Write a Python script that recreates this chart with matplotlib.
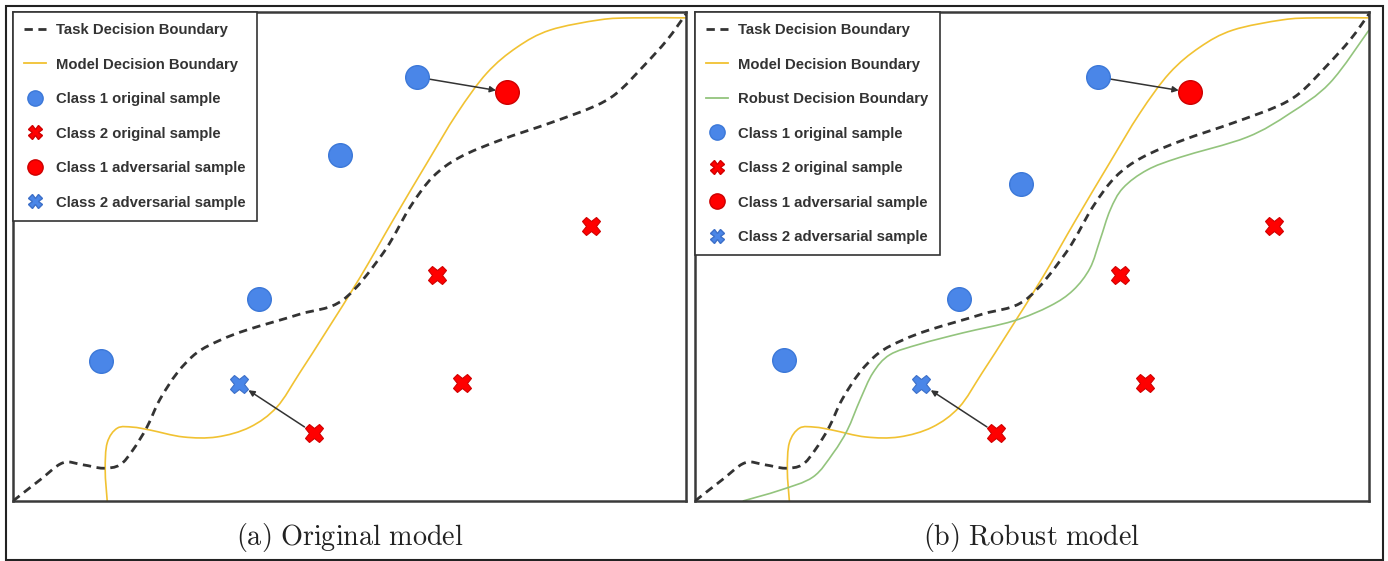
import numpy as np
import matplotlib
matplotlib.use('Agg')
import matplotlib.pyplot as plt
from matplotlib.path import Path
from matplotlib.patches import PathPatch, Rectangle
from matplotlib.lines import Line2D

plt.rcParams['mathtext.fontset'] = 'cm'

# boundaries (panel units 0..10)
task_x = [0, 0.40, 0.74, 1.04, 1.34, 1.59, 1.78, 1.99, 2.18, 2.44, 2.73, 3.08, 3.48, 4.26, 4.90,
          5.50, 5.90, 6.24, 6.64, 7.24, 7.98, 8.62, 8.97, 9.36, 9.72, 10.0]
task_y = [0, 0.43, 0.78, 0.74, 0.67, 0.74, 1.04, 1.51, 2.07, 2.62, 3.03, 3.29, 3.50, 3.82, 4.11,
          5.07, 6.01, 6.63, 7.03, 7.38, 7.73, 8.06, 8.34, 8.88, 9.43, 9.96]

model_x = [1.40, 1.37, 1.40, 1.55, 1.78, 2.04, 2.53, 3.03, 3.52, 3.92, 4.26, 4.67, 5.16, 5.65,
           6.15, 6.60, 7.04, 7.49, 7.98, 8.72, 9.21, 10.0]
model_y = [0, 0.63, 1.19, 1.49, 1.51, 1.45, 1.31, 1.31, 1.51, 1.92, 2.62, 3.50, 4.58, 5.75,
           6.91, 7.93, 8.75, 9.28, 9.63, 9.84, 9.88, 9.88]

robust_x = [0.71, 1.26, 1.75, 2.05, 2.26, 2.45, 2.64, 2.89, 3.34, 3.98, 4.72, 5.27, 5.61, 5.86,
            6.01, 6.16, 6.35, 6.71, 7.20, 8.19, 8.83, 9.42, 10.0]
robust_y = [0, 0.22, 0.49, 0.98, 1.45, 2.07, 2.62, 2.99, 3.21, 3.44, 3.68, 3.99, 4.31, 4.76,
            5.34, 5.95, 6.40, 6.77, 7.03, 7.44, 7.93, 8.55, 9.63]

# samples
c1_orig_a = ([6.00, 4.86, 3.66, 1.31], [8.67, 7.08, 4.13, 2.86])
c1_orig_b = ([5.98, 4.84, 3.92, 1.32], [8.67, 6.48, 4.13, 2.88])
c2_orig = ([8.59, 6.30, 6.67, 4.47], [5.62, 4.62, 2.41, 1.39])
c1_adv = (7.34, 8.36)
c2_adv = (3.36, 2.39)

captions = [r'$\mathrm{(a)\ Original\ model}$', r'$\mathrm{(b)\ Robust\ model}$']

BLUE = '#4a86e8'
RED = '#ff0000'
ORANGE = '#f1c232'
GREEN = '#93c47d'
DARK = '#333333'


def smooth_path(xs, ys):
    # catmull-rom through the points, drawn as cubic bezier
    pts = np.column_stack([xs, ys]).astype(float)
    p = np.vstack([pts[0], pts, pts[-1]])
    verts = [pts[0]]
    codes = [Path.MOVETO]
    for i in range(1, len(p) - 2):
        p0, p1, p2, p3 = p[i - 1], p[i], p[i + 1], p[i + 2]
        verts += [p1 + (p2 - p0) / 6, p2 - (p3 - p1) / 6, p2]
        codes += [Path.CURVE4] * 3
    return Path(verts, codes)


def draw_panel(ax, circles, robust=False):
    ax.set_xlim(0, 10)
    ax.set_ylim(0, 10)
    ax.set_xticks([])
    ax.set_yticks([])
    for s in ax.spines.values():
        s.set_linewidth(1.8)
        s.set_color('#3a3a3a')

    ax.add_patch(PathPatch(smooth_path(task_x, task_y), fill=False, ec=DARK, lw=2,
                           ls=(0, (3, 2)), zorder=3))
    ax.add_patch(PathPatch(smooth_path(model_x, model_y), fill=False, ec=ORANGE, lw=1.2, zorder=2))
    if robust:
        ax.add_patch(PathPatch(smooth_path(robust_x, robust_y), fill=False, ec=GREEN, lw=1.2, zorder=2))

    ax.plot(circles[0], circles[1], 'o', ms=17, mfc=BLUE, mec='#3c78d8', mew=1, zorder=5)
    ax.plot(c2_orig[0], c2_orig[1], 'X', ms=13, mfc=RED, mec='#d00000', mew=0.8, zorder=5)
    ax.plot(*c1_adv, 'o', ms=17, mfc=RED, mec='#cc0000', mew=1, zorder=5)
    ax.plot(*c2_adv, 'X', ms=13, mfc=BLUE, mec='#3c6fc8', mew=0.8, zorder=5)

    arrow = dict(arrowstyle='-|>', color=DARK, lw=1.1, mutation_scale=9, shrinkA=8, shrinkB=8)
    ax.annotate('', xy=c1_adv, xytext=(circles[0][0], circles[1][0]), arrowprops=arrow, zorder=4)
    ax.annotate('', xy=c2_adv, xytext=(c2_orig[0][3], c2_orig[1][3]), arrowprops=arrow, zorder=4)

    handles = [Line2D([], [], color=DARK, lw=2, ls=(0, (3, 2)), label='Task Decision Boundary'),
               Line2D([], [], color=ORANGE, lw=1.3, label='Model Decision Boundary')]
    if robust:
        handles.append(Line2D([], [], color=GREEN, lw=1.3, label='Robust Decision Boundary'))
    handles += [Line2D([], [], ls='none', marker='o', ms=11, mfc=BLUE, mec='#3c78d8', label='Class 1 original sample'),
                Line2D([], [], ls='none', marker='X', ms=10, mfc=RED, mec='#d00000', label='Class 2 original sample'),
                Line2D([], [], ls='none', marker='o', ms=11, mfc=RED, mec='#cc0000', label='Class 1 adversarial sample'),
                Line2D([], [], ls='none', marker='X', ms=10, mfc=BLUE, mec='#3c6fc8', label='Class 2 adversarial sample')]
    leg = ax.legend(handles=handles, loc='upper left', borderaxespad=0, fancybox=False, framealpha=1,
                    edgecolor=DARK, labelcolor=DARK, labelspacing=1.38, handlelength=1.5,
                    handletextpad=0.67, borderpad=0.75,
                    prop=dict(family='Liberation Sans', weight='bold', size=10.7))
    leg.get_frame().set_linewidth(1.2)
    leg.set_zorder(10)


fig = plt.figure(figsize=(13.88, 5.61), dpi=100)
W, H = 1388, 561
ax1 = fig.add_axes([13 / W, 60 / H, 673 / W, 489 / H])
ax2 = fig.add_axes([695 / W, 60 / H, 674 / W, 489 / H])
draw_panel(ax1, c1_orig_a)
draw_panel(ax2, c1_orig_b, robust=True)

fig.text(349.5 / W, 1 - 538 / H, captions[0], ha='center', va='center', fontsize=20.3, color='#222222')
fig.text(1032 / W, 1 - 538 / H, captions[1], ha='center', va='center', fontsize=20.3, color='#222222')

fig.patches.append(Rectangle((5.5 / W, 1 / H), (1383 - 5.5) / W, (556 - 1 + 4) / H - 4.5 / H,
                             transform=fig.transFigure, fill=False, ec='#222222', lw=1.5))

fig.savefig('out.png', dpi=100)
